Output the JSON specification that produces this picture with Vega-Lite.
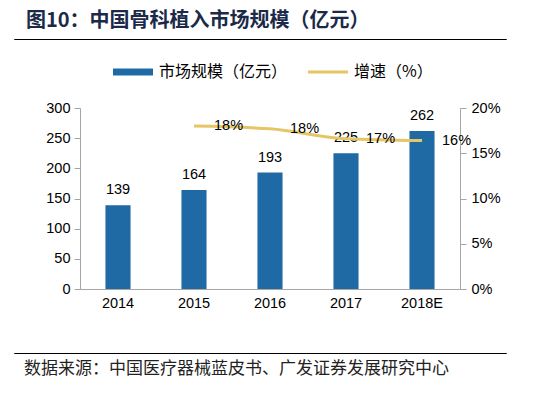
{
  "$schema": "https://vega.github.io/schema/vega-lite/v6.json",
  "background": "white",
  "padding": {"left": 13, "top": 10, "right": 5, "bottom": 5},
  "spacing": 24,
  "resolve": {"scale": {"color": "independent"}, "legend": {"color": "independent"}},
  "config": {
    "font": "Liberation Sans",
    "view": {"stroke": null},
    "axis": {"grid": false, "labelOverlap": false}
  },
  "vconcat": [
    {
      "width": 492,
      "height": 0.01,
      "view": {"stroke": "#000000", "strokeWidth": 1},
      "title": {"text": "图10：中国骨科植入市场规模（亿元）", "anchor": "start", "dx": 12, "offset": 8, "fontSize": 20, "fontWeight": "bold", "font": "Noto Sans CJK SC", "color": "#1B2A48"},
      "mark": {"type": "rule", "opacity": 0},
      "encoding": {}
    },
    {
      "spacing": 0,
      "resolve": {"scale": {"color": "independent"}, "legend": {"color": "independent"}},
      "hconcat": [
        {
          "width": 0.01,
          "height": 0.01,
          "mark": {"type": "rule", "opacity": 0},
          "encoding": {}
        },
        {
          "width": 380,
          "height": 181,
          "data": {"values": [
            {"year": "2014", "size": 139, "growth": null},
            {"year": "2015", "size": 164, "growth": 0.18},
            {"year": "2016", "size": 193, "growth": 0.177},
            {"year": "2017", "size": 225, "growth": 0.166},
            {"year": "2018E", "size": 262, "growth": 0.164}
          ]},
          "encoding": {
            "x": {"field": "year", "type": "ordinal", "sort": null,
              "scale": {"paddingInner": 0.67, "paddingOuter": 0.335},
              "axis": {"title": null, "labelAngle": 0, "ticks": false, "domainColor": "#A6A6A6", "labelFontSize": 14.5, "labelColor": "#000000", "labelPadding": 7, "minExtent": 39}}
          },
          "layer": [
            {
              "encoding": {
                "y": {"field": "size", "type": "quantitative", "scale": {"domain": [0, 300]},
                  "axis": {"title": null, "values": [0, 50, 100, 150, 200, 250, 300], "tickCount": 7, "labelOverlap": false, "domainColor": "#A6A6A6", "tickColor": "#A6A6A6", "tickSize": 6, "labelFontSize": 14.5, "labelColor": "#000000", "labelPadding": 4, "minExtent": 65}}
              },
              "layer": [
                {
                  "mark": {"type": "bar"},
                  "encoding": {
                    "color": {"datum": "市场规模（亿元）", "type": "nominal",
                      "scale": {"domain": ["市场规模（亿元）", "增速（%）"], "range": ["#1F6AA5", "#E6C565"]},
                      "legend": {"title": null, "orient": "none", "legendX": 45, "legendY": -44, "direction": "horizontal", "labelFontSize": 16, "labelFont": "Noto Sans CJK SC", "labelColor": "#000000", "symbolSize": 1600, "labelOffset": 18, "columnPadding": 14, "labelLimit": 300,
                        "encode": {"symbols": {"update": {
                          "shape": {"signal": "datum.value === '增速（%）' ? 'M-1,0H1' : 'M-1,-0.17H1V0.17H-1Z'"},
                          "fill": {"signal": "datum.value === '增速（%）' ? 'transparent' : '#1F6AA5'"},
                          "stroke": {"signal": "datum.value === '增速（%）' ? '#E6C565' : 'transparent'"},
                          "strokeWidth": {"signal": "datum.value === '增速（%）' ? 3 : 0"},
                          "opacity": {"value": 1}
                        }}}}}
                  }
                },
                {
                  "mark": {"type": "text", "baseline": "bottom", "dy": -8, "fontSize": 14.5, "color": "#000000"},
                  "encoding": {
                    "text": {"field": "size", "type": "quantitative"}
                  }
                }
              ]
            },
            {
              "transform": [{"filter": "datum.growth != null"}],
              "encoding": {
                "y": {"field": "growth", "type": "quantitative", "scale": {"domain": [0, 0.2]},
                  "axis": {"orient": "right", "title": null, "format": ".0%", "values": [0, 0.05, 0.1, 0.15, 0.2], "labelOverlap": false, "domainColor": "#A6A6A6", "tickColor": "#A6A6A6", "tickSize": 6, "labelFontSize": 14.5, "labelColor": "#000000", "labelPadding": 5}}
              },
              "layer": [
                {
                  "mark": {"type": "line", "interpolate": "monotone", "strokeWidth": 3},
                  "encoding": {
                    "color": {"datum": "增速（%）", "type": "nominal"}
                  }
                },
                {
                  "mark": {"type": "text", "align": "left", "baseline": "middle", "dx": 20, "fontSize": 14.5, "color": "#000000"},
                  "encoding": {
                    "text": {"field": "growth", "type": "quantitative", "format": ".0%"}
                  }
                }
              ]
            }
          ],
          "resolve": {"scale": {"y": "independent"}}
        }
      ]
    },
    {
      "width": 492,
      "height": 0.01,
      "view": {"stroke": "#000000", "strokeWidth": 1},
      "title": {"text": "数据来源：中国医疗器械蓝皮书、广发证券发展研究中心", "orient": "bottom", "anchor": "start", "dx": 10, "offset": 8, "fontSize": 17, "fontWeight": "normal", "font": "Noto Sans CJK SC", "color": "#222222"},
      "mark": {"type": "rule", "opacity": 0},
      "encoding": {}
    }
  ]
}
